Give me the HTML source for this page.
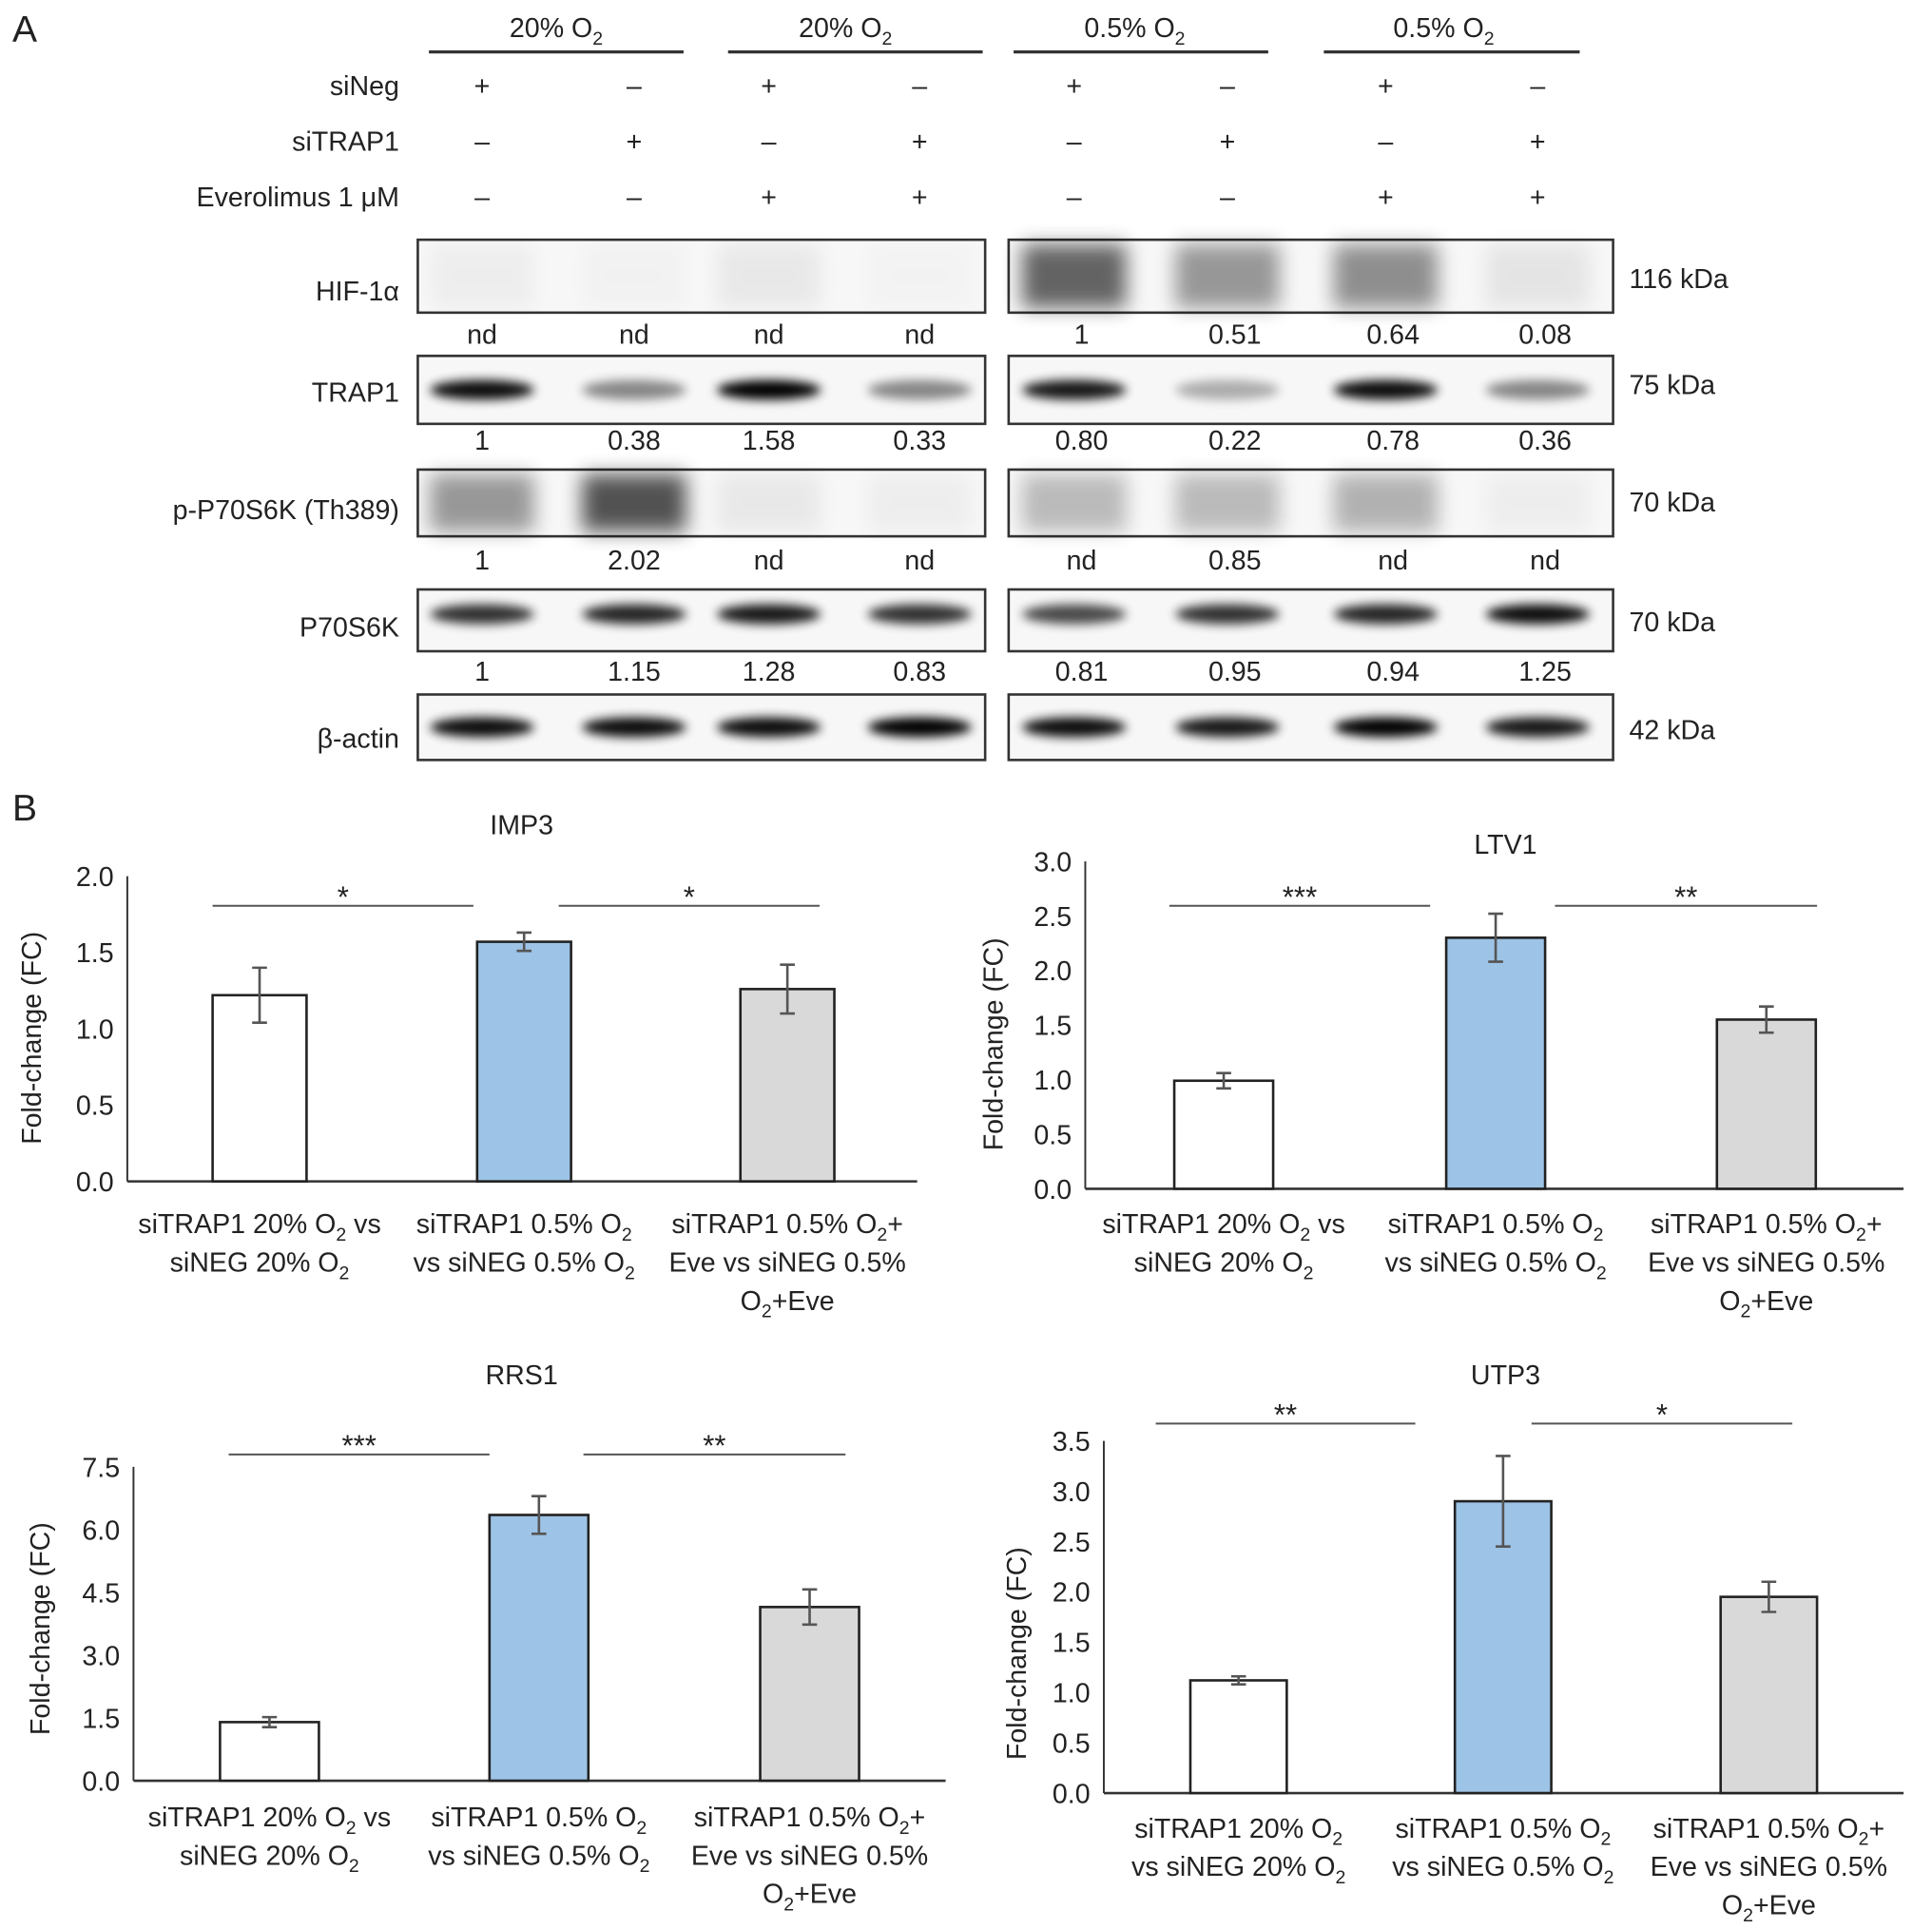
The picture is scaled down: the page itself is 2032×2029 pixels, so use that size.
<!DOCTYPE html>
<html><head><meta charset="utf-8">
<style>
html,body{margin:0;padding:0;background:#fff;}
svg{display:block;font-family:"Liberation Sans",Arial,sans-serif;}
text{fill:#222;}
</style></head>
<body>
<svg id="fig" width="2032" height="2029" viewBox="0 0 1563 1561" preserveAspectRatio="none" xmlns="http://www.w3.org/2000/svg">
<defs>
<filter id="blur" x="-30%" y="-80%" width="160%" height="260%"><feGaussianBlur stdDeviation="4"/></filter>
<filter id="blur2" x="-30%" y="-80%" width="160%" height="260%"><feGaussianBlur stdDeviation="8"/></filter>
</defs>
<text x="10" y="34" font-size="30">A</text>
<text x="10" y="664" font-size="30">B</text>
<g id="panelA"></g>
<g id="panelB"></g>
</svg>
<script>
const NS='http://www.w3.org/2000/svg';
function mk(parent,tag,attrs,txt){const e=document.createElementNS(NS,tag);for(const k in attrs)e.setAttribute(k,attrs[k]);if(txt!==undefined)e.textContent=txt;parent.appendChild(e);return e;}

// ---------- Panel A ----------
const A=document.getElementById('panelA');
const laneX=[390,513,622,744,869,993,1121,1244];
const headers=[["20% O","2",450,347,553],["20% O","2",684,589,795],["0.5% O","2",918,820,1026],["0.5% O","2",1168,1071,1278]];
headers.forEach(h=>{
  const t=mk(A,'text',{x:h[2],y:30,'font-size':22,'text-anchor':'middle'});
  
  
  t.appendChild(document.createTextNode(h[0]));
  mk(t,'tspan',{dy:6,'font-size':15},h[1]);
  mk(A,'line',{x1:h[3],x2:h[4],y1:42,y2:42,stroke:'#333','stroke-width':2.5});
});
const rows=[["siNeg",69,"+-+-+-+-"],["siTRAP1",114,"-+-+-+-+"],["Everolimus 1 μM",159,"--++--++"]];
rows.forEach(r=>{
  const t=mk(A,'text',{x:323,y:r[1]+8,'font-size':22,'text-anchor':'end'},r[0]);
  
  
  r[2].split('').forEach((c,i)=>{
    mk(A,'text',{x:laneX[i],y:r[1]+8,'font-size':22,'text-anchor':'middle'},c==='+'?'+':'–');
  });
});
const blots=[
 ["HIF-1α",194,253,236,"116 kDa",225,[0.05,0.03,0.08,0.02,0.85,0.55,0.6,0.1],0.5,270,["nd","nd","nd","nd","1","0.51","0.64","0.08"]],
 ["TRAP1",288,343,318,"75 kDa",311,[0.95,0.45,1,0.45,0.9,0.3,0.95,0.45],0.5,356,["1","0.38","1.58","0.33","0.80","0.22","0.78","0.36"]],
 ["p-P70S6K (Th389)",380,434,413,"70 kDa",406,[0.55,0.95,0.08,0.05,0.35,0.35,0.4,0.05],0.4,453,["1","2.02","nd","nd","nd","0.85","nd","nd"]],
 ["P70S6K",477,527,508,"70 kDa",503,[0.8,0.85,0.9,0.8,0.7,0.8,0.85,0.95],0.4,543,["1","1.15","1.28","0.83","0.81","0.95","0.94","1.25"]],
 ["β-actin",562,615,598,"42 kDa",590,[0.95,0.95,0.95,1,0.95,0.9,1,0.9],0.5,null,null]
];
blots.forEach(b=>{
  const g=mk(A,'g',{});
  
  
  [[338,797],[816,1305]].forEach(([x1,x2])=>{
    mk(g,'rect',{x:x1,y:b[1],width:x2-x1,height:b[2]-b[1],fill:'#f7f7f7',stroke:'#333','stroke-width':2});
  });
  b[6].forEach((v,i)=>{
    const cy=b[1]+(b[2]-b[1])*b[7];
    if(b[0]==="HIF-1α"||b[0].startsWith("p-")){
      mk(g,'rect',{x:laneX[i]-42,y:b[1]+4,width:84,height:b[2]-b[1]-8,fill:'#000',opacity:v*0.7,filter:'url(#blur2)'});
    }else{
      mk(g,'ellipse',{cx:laneX[i],cy:cy,rx:42,ry:8,fill:'#000',opacity:v,filter:'url(#blur)'});
    }
  });
  const t=mk(A,'text',{x:323,y:b[3]+7,'font-size':22,'text-anchor':'end'},b[0]);
  
  
  const k=mk(A,'text',{x:1318,y:b[5]+8,'font-size':22},b[4]);
  
  
  if(b[8]){b[9].forEach((s,i)=>{mk(A,'text',{x:laneX[i]+(i>3?6:0),y:b[8]+8,'font-size':22,'text-anchor':'middle'},s);});}
});

// ---------- Panel B charts ----------
const impVals=[1.22,1.57,1.26];
const impErr=[0.18,0.06,0.16];
const ltvVals=[0.99,2.30,1.55];
const ltvErr=[0.07,0.22,0.12];
const rrsVals=[1.40,6.35,4.15];
const rrsErr=[0.12,0.45,0.42];
const utpVals=[1.12,2.90,1.95];
const utpErr=[0.04,0.45,0.15];
const impTicks=["0.0","0.5","1.0","1.5","2.0"];
const ltvTicks=["0.0","0.5","1.0","1.5","2.0","2.5","3.0"];
const rrsTicks=["0.0","1.5","3.0","4.5","6.0","7.5"];
const utpTicks=["0.0","0.5","1.0","1.5","2.0","2.5","3.0","3.5"];
const impSig=["*","*"];
const ltvSig=["***","**"];
const rrsSig=["***","**"];
const utpSig=["**","*"];
const fills=["#ffffff","#9dc3e6","#d9d9d9"];
const labA=[[["siTRAP1 20% O",["2"]," vs"],["siNEG 20% O",["2"],""]],[["siTRAP1 0.5% O",["2"],""],["vs siNEG 0.5% O",["2"],""]],[["siTRAP1 0.5% O",["2"],"+"],["Eve vs siNEG 0.5%",[],""],["O",["2"],"+Eve"]]];
const labB=[[["siTRAP1 20% O",["2"],""],["vs siNEG 20% O",["2"],""]],labA[1],labA[2]];

const charts=[
 {name:'imp3',title:'IMP3',tx:422,ty:667,x0:103,x1:742,base:956,top:709,ymax:2.0,ticks:impTicks,vals:impVals,err:impErr,cx:[210,424,637],bw:76,sig:impSig,sigY:733,sigX:[[172,383],[452,663]],ylx:25,yly:840,labs:labA,labY:990},
 {name:'ltv1',title:'LTV1',tx:1218,ty:683,x0:878,x1:1540,base:962,top:697,ymax:3.0,ticks:ltvTicks,vals:ltvVals,err:ltvErr,cx:[990,1210,1429],bw:80,sig:ltvSig,sigY:733,sigX:[[946,1157],[1258,1470]],ylx:803,yly:845,labs:labA,labY:990},
 {name:'rrs1',title:'RRS1',tx:422,ty:1112,x0:108,x1:765,base:1441,top:1187,ymax:7.5,ticks:rrsTicks,vals:rrsVals,err:rrsErr,cx:[218,436,655],bw:80,sig:rrsSig,sigY:1177,sigX:[[185,396],[472,684]],ylx:32,yly:1318,labs:labA,labY:1470},
 {name:'utp3',title:'UTP3',tx:1218,ty:1112,x0:893,x1:1540,base:1451,top:1166,ymax:3.5,ticks:utpTicks,vals:utpVals,err:utpErr,cx:[1002,1216,1431],bw:78,sig:utpSig,sigY:1152,sigX:[[935,1145],[1239,1450]],ylx:822,yly:1338,labs:labB,labY:1479}
];
const B=document.getElementById('panelB');
charts.forEach(c=>{
  const g=mk(B,'g',{});
  
  
  const yS=v=>c.base-(v/c.ymax)*(c.base-c.top);
  const t=mk(g,'text',{x:c.tx,y:c.ty+8,'font-size':22,'text-anchor':'middle'},c.title);
  
  
  const yl=mk(g,'text',{transform:`translate(${c.ylx+8},${c.yly}) rotate(-90)`,'font-size':22,'text-anchor':'middle'},'Fold-change (FC)');
  
  
  mk(g,'line',{x1:c.x0,x2:c.x0,y1:c.top,y2:c.base,stroke:'#333','stroke-width':1.5});
  mk(g,'line',{x1:c.x0,x2:c.x1,y1:c.base,y2:c.base,stroke:'#333','stroke-width':2});
  c.ticks.forEach(s=>{
    const tk=mk(g,'text',{x:c.x0-11,y:yS(parseFloat(s))+8,'font-size':22,'text-anchor':'end'},s);
    
    
  });
  c.vals.forEach((v,i)=>{
    const r=mk(g,'rect',{x:c.cx[i]-c.bw/2,y:yS(v),width:c.bw,height:c.base-yS(v),fill:fills[i],stroke:'#222','stroke-width':2});
    
    
    const e1=yS(v+c.err[i]),e2=yS(v-c.err[i]);
    const eb=mk(g,'path',{d:`M${c.cx[i]} ${e1}V${e2}M${c.cx[i]-6} ${e1}H${c.cx[i]+6}M${c.cx[i]-6} ${e2}H${c.cx[i]+6}`,stroke:'#555','stroke-width':2,fill:'none'});
    
    
    c.labs[i].forEach((ln,j)=>{
      const tt=mk(g,'text',{x:c.cx[i],y:c.labY+8+j*31,'font-size':22,'text-anchor':'middle'});
      
      
      tt.appendChild(document.createTextNode(ln[0]));
      if(ln[1].length){mk(tt,'tspan',{dy:6,'font-size':15},ln[1][0]);mk(tt,'tspan',{dy:-6},ln[2]||'\u200b');}
    });
  });
  c.sig.forEach((s,i)=>{
    const l=mk(g,'line',{x1:c.sigX[i][0],x2:c.sigX[i][1],y1:c.sigY,y2:c.sigY,stroke:'#555','stroke-width':1.5});
    
    
    mk(g,'text',{x:(c.sigX[i][0]+c.sigX[i][1])/2,y:c.sigY+1,'font-size':24,'text-anchor':'middle',fill:'#444'},s);
  });
});
</script>
</body></html>
